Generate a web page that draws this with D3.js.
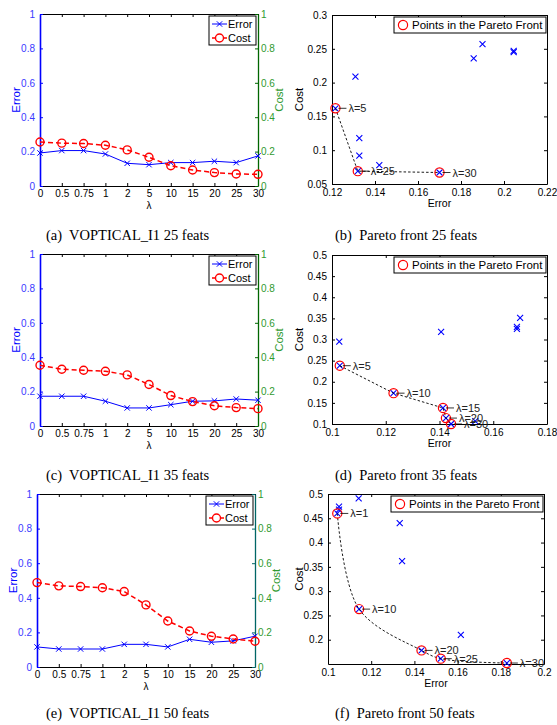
<!DOCTYPE html>
<html>
<head>
<meta charset="utf-8">
<script src="https://cdn.jsdelivr.net/npm/d3@7"></script>
<style>
body { margin: 0; background: #fff; }
svg { display: block; font-family: "Liberation Sans", Arial, sans-serif; }
</style>
</head>
<body>
<div id="chart"></div>
<script>
// lambda values on the x axis of the left panels
const LAMBDAS = ['0', '0.5', '0.75', '1', '2', '5', '10', '15', '20', '25', '30'];
const UNIT_TICKS = [0, 0.2, 0.4, 0.6, 0.8, 1];

// (a) 25 feats
const ERROR_25 = [0.192, 0.206, 0.206, 0.186, 0.132, 0.124, 0.136, 0.136, 0.144, 0.136, 0.175];
const COST_25 = [0.256, 0.249, 0.247, 0.237, 0.210, 0.167, 0.118, 0.093, 0.078, 0.070, 0.068];
// (c) 35 feats
const ERROR_35 = [0.173, 0.173, 0.173, 0.144, 0.105, 0.105, 0.124, 0.144, 0.146, 0.157, 0.150];
const COST_35 = [0.353, 0.330, 0.324, 0.318, 0.297, 0.241, 0.177, 0.142, 0.118, 0.107, 0.101];
// (e) 50 feats
const ERROR_50 = [0.116, 0.104, 0.104, 0.104, 0.131, 0.131, 0.116, 0.160, 0.143, 0.151, 0.178];
const COST_50 = [0.488, 0.469, 0.465, 0.458, 0.436, 0.359, 0.266, 0.208, 0.178, 0.162, 0.149];

// (b) pareto 25 feats
const ALL_ERR_25 = [0.1216, 0.1309, 0.1327, 0.1327, 0.1320, 0.1420, 0.1700, 0.1859, 0.1900, 0.2045, 0.2045];
const ALL_COST_25 = [0.162, 0.209, 0.118, 0.092, 0.069, 0.078, 0.067, 0.236, 0.257, 0.247, 0.245];
const FRONT_ERR_25 = [0.1216, 0.1320, 0.1700];
const FRONT_COST_25 = [0.162, 0.069, 0.067];
const FRONT_LABELS_25 = ['λ=5', 'λ=25', 'λ=30'];
const X_TICKS_25 = [0.12, 0.14, 0.16, 0.18, 0.2, 0.22];
const Y_TICKS_25 = [0.05, 0.1, 0.15, 0.2, 0.25, 0.3];

// (d) pareto 35 feats
const ALL_ERR_35 = [0.1027, 0.1029, 0.1229, 0.1406, 0.1413, 0.1424, 0.1443, 0.1533, 0.1700, 0.1688, 0.1688];
const ALL_COST_35 = [0.295, 0.238, 0.173, 0.318, 0.138, 0.114, 0.100, 0.107, 0.351, 0.330, 0.325];
const FRONT_ERR_35 = [0.1029, 0.1229, 0.1413, 0.1424, 0.1443];
const FRONT_COST_35 = [0.238, 0.173, 0.138, 0.114, 0.100];
const FRONT_LABELS_35 = ['λ=5', 'λ=10', 'λ=15', 'λ=20', 'λ=30'];
const X_TICKS_35 = [0.1, 0.12, 0.14, 0.16, 0.18];
const Y_TICKS_35 = [0.1, 0.15, 0.2, 0.25, 0.3, 0.35, 0.4, 0.45, 0.5];

// (f) pareto 50 feats
const ALL_ERR_50 = [0.1043, 0.1051, 0.1051, 0.1142, 0.1332, 0.1343, 0.1144, 0.1433, 0.1522, 0.1615, 0.1828];
const ALL_COST_50 = [0.460, 0.474, 0.468, 0.491, 0.440, 0.362, 0.263, 0.178, 0.161, 0.210, 0.152];
const FRONT_ERR_50 = [0.1043, 0.1144, 0.1433, 0.1522, 0.1828];
const FRONT_COST_50 = [0.460, 0.263, 0.178, 0.161, 0.152];
const FRONT_LABELS_50 = ['λ=1', 'λ=10', 'λ=20', 'λ=25', 'λ=30'];
const X_TICKS_50 = [0.1, 0.12, 0.14, 0.16, 0.18, 0.2];
const Y_TICKS_50 = [0.2, 0.25, 0.3, 0.35, 0.4, 0.45, 0.5];

const CAPTIONS = [
	'(a)  VOPTICAL_I1 25 feats', '(b)  Pareto front 25 feats',
	'(c)  VOPTICAL_I1 35 feats', '(d)  Pareto front 35 feats',
	'(e)  VOPTICAL_I1 50 feats', '(f)  Pareto front 50 feats'
];

const BLUE = '#0000ff';
const RED = '#ff0000';
const TICK = 3;

const W = 557, H = 725;
const svg = d3.select('#chart').append('svg').attr('width', W).attr('height', H);

function xMarker(g, x, y, s, color, width) {
	g.append('path')
		.attr('d', `M${x - s},${y - s}L${x + s},${y + s}M${x - s},${y + s}L${x + s},${y - s}`)
		.attr('stroke', color).attr('stroke-width', width).attr('fill', 'none');
}

function drawLambda(box, errors, costs) {
	const g = svg.append('g');
	const x = d3.scalePoint().domain(LAMBDAS).range([box.x0, box.x1]);
	const y = d3.scaleLinear().domain([0, 1]).range([box.y1, box.y0]);

	// box: top and bottom in black
	g.append('g').attr('transform', `translate(0,${box.y1})`)
		.call(d3.axisBottom(x).tickSizeInner(-TICK).tickSizeOuter(0).tickPadding(4))
		.call(a => a.select('.domain').attr('stroke', '#000'))
		.call(a => a.selectAll('text').attr('font-size', 10).attr('fill', '#000'));
	g.append('g').attr('transform', `translate(0,${box.y0})`)
		.call(d3.axisTop(x).tickSizeInner(-TICK).tickSizeOuter(0).tickFormat(''));

	// left axis (error, blue) and right axis (cost, green)
	g.append('g').attr('transform', `translate(${box.x0},0)`)
		.call(d3.axisLeft(y).tickValues(UNIT_TICKS).tickFormat(d3.format('~g'))
			.tickSizeInner(-TICK).tickSizeOuter(0).tickPadding(5))
		.call(a => a.select('.domain').attr('stroke', BLUE).attr('stroke-width', 1.6))
		.call(a => a.selectAll('line').attr('stroke', BLUE))
		.call(a => a.selectAll('text').attr('font-size', 10).attr('fill', '#3a3aff'));
	g.append('g').attr('transform', `translate(${box.x1},0)`)
		.call(d3.axisRight(y).tickValues(UNIT_TICKS).tickFormat(d3.format('~g'))
			.tickSizeInner(-TICK).tickSizeOuter(0).tickPadding(3))
		.call(a => a.select('.domain').attr('stroke', box.rightColor).attr('stroke-width', 1.3))
		.call(a => a.selectAll('line').attr('stroke', box.rightColor))
		.call(a => a.selectAll('text').attr('font-size', 10).attr('fill', '#2f9a2f'));

	// axis labels
	const midY = (box.y0 + box.y1) / 2;
	g.append('text').attr('transform', `translate(${box.errLabelX},${midY})rotate(-90)`)
		.attr('text-anchor', 'middle').attr('font-size', 11.5).attr('fill', BLUE).text('Error');
	g.append('text').attr('transform', `translate(${box.costLabelX},${midY})rotate(-90)`)
		.attr('text-anchor', 'middle').attr('font-size', 11.5).attr('fill', '#2f9a2f').text('Cost');
	g.append('text').attr('x', (box.x0 + box.x1) / 2).attr('y', box.y1 + 23)
		.attr('text-anchor', 'middle').attr('font-size', 10).text('λ');

	// error series
	const seriesLine = d3.line().x((d, i) => x(LAMBDAS[i])).y(d => y(d));
	g.append('path').datum(errors).attr('d', seriesLine)
		.attr('fill', 'none').attr('stroke', BLUE).attr('stroke-width', 1);
	errors.forEach((d, i) => xMarker(g, x(LAMBDAS[i]), y(d), 2.7, BLUE, 1));

	// cost series
	g.append('path').datum(costs).attr('d', seriesLine)
		.attr('fill', 'none').attr('stroke', RED).attr('stroke-width', 1.5)
		.attr('stroke-dasharray', '5,3');
	g.selectAll('circle.cost').data(costs).enter().append('circle')
		.attr('class', 'cost')
		.attr('cx', (d, i) => x(LAMBDAS[i])).attr('cy', d => y(d)).attr('r', 4)
		.attr('fill', 'none').attr('stroke', RED).attr('stroke-width', 1.4);

	// legend
	const lg = g.append('g').attr('transform', `translate(${box.x1 - 49},${box.y0 + 2})`);
	lg.append('rect').attr('width', 47).attr('height', 29)
		.attr('fill', '#fff').attr('stroke', '#000').attr('stroke-width', 1);
	lg.append('line').attr('x1', 3).attr('x2', 18).attr('y1', 8).attr('y2', 8)
		.attr('stroke', BLUE).attr('stroke-width', 1);
	xMarker(lg, 10.5, 8, 2.7, BLUE, 1);
	lg.append('text').attr('x', 19).attr('y', 12).attr('font-size', 11).text('Error');
	lg.append('line').attr('x1', 3).attr('x2', 18).attr('y1', 22).attr('y2', 22)
		.attr('stroke', RED).attr('stroke-width', 1.4).attr('stroke-dasharray', '4,2');
	lg.append('circle').attr('cx', 10.5).attr('cy', 22).attr('r', 4)
		.attr('fill', '#fff').attr('stroke', RED).attr('stroke-width', 1.4);
	lg.append('text').attr('x', 19).attr('y', 26).attr('font-size', 11).text('Cost');
}

function drawPareto(box, allErr, allCost, frontErr, frontCost, labels, xTicks, yTicks, curve) {
	const g = svg.append('g');
	const x = d3.scaleLinear().domain(box.xDomain).range([box.x0, box.x1]);
	const y = d3.scaleLinear().domain(box.yDomain).range([box.y1, box.y0]);
	const fmt = d3.format('~g');

	const styleAxis = a => {
		a.select('.domain').attr('stroke', '#000');
		a.selectAll('text').attr('font-size', 10).attr('fill', '#000');
	};
	g.append('g').attr('transform', `translate(0,${box.y1})`)
		.call(d3.axisBottom(x).tickValues(xTicks).tickFormat(fmt).tickSizeInner(-TICK).tickSizeOuter(0).tickPadding(5))
		.call(styleAxis);
	g.append('g').attr('transform', `translate(0,${box.y0})`)
		.call(d3.axisTop(x).tickValues(xTicks).tickFormat('').tickSizeInner(-TICK).tickSizeOuter(0))
		.call(styleAxis);
	g.append('g').attr('transform', `translate(${box.x0},0)`)
		.call(d3.axisLeft(y).tickValues(yTicks).tickFormat(fmt).tickSizeInner(-TICK).tickSizeOuter(0).tickPadding(5))
		.call(styleAxis);
	g.append('g').attr('transform', `translate(${box.x1},0)`)
		.call(d3.axisRight(y).tickValues(yTicks).tickFormat('').tickSizeInner(-TICK).tickSizeOuter(0))
		.call(styleAxis);

	const midY = (box.y0 + box.y1) / 2;
	g.append('text').attr('transform', `translate(${box.costLabelX},${midY})rotate(-90)`)
		.attr('text-anchor', 'middle').attr('font-size', 11.5).text('Cost');
	g.append('text').attr('x', (box.x0 + box.x1) / 2).attr('y', box.y1 + 23)
		.attr('text-anchor', 'middle').attr('font-size', 10.5).text('Error');

	// all solutions
	allErr.forEach((d, i) => xMarker(g, x(d), y(allCost[i]), 3, BLUE, 1.1));

	// pareto front
	const front = frontErr.map((d, i) => [x(d), y(frontCost[i])]);
	g.append('path').datum(front).attr('d', d3.line().curve(curve))
		.attr('fill', 'none').attr('stroke', '#000').attr('stroke-width', 0.9)
		.attr('stroke-dasharray', '2.5,2');
	front.forEach(([px, py], i) => {
		g.append('circle').attr('cx', px).attr('cy', py).attr('r', 4.6)
			.attr('fill', 'none').attr('stroke', RED).attr('stroke-width', 1.2);
		g.append('line').attr('x1', px + 3).attr('x2', px + 11).attr('y1', py).attr('y2', py)
			.attr('stroke', '#000').attr('stroke-width', 0.8);
		g.append('text').attr('x', px + 13).attr('y', py + 4)
			.attr('font-size', 11).attr('fill', '#222').text(labels[i]);
	});

	// legend
	const lg = g.append('g').attr('transform', `translate(${box.x1 - 153},${box.y0 + 2})`);
	lg.append('rect').attr('width', 152).attr('height', 16)
		.attr('fill', '#fff').attr('stroke', '#000').attr('stroke-width', 1);
	lg.append('circle').attr('cx', 9).attr('cy', 8).attr('r', 4.6)
		.attr('fill', 'none').attr('stroke', RED).attr('stroke-width', 1.2);
	lg.append('text').attr('x', 18).attr('y', 12).attr('font-size', 11.5).text('Points in the Pareto Front');
}

drawLambda({x0: 40, x1: 258, y0: 14, y1: 186, rightColor: '#006600', errLabelX: 20, costLabelX: 283}, ERROR_25, COST_25);
drawLambda({x0: 40, x1: 258, y0: 254, y1: 426, rightColor: '#006600', errLabelX: 20, costLabelX: 283}, ERROR_35, COST_35);
drawLambda({x0: 37, x1: 255, y0: 494, y1: 667, rightColor: '#006666', errLabelX: 17, costLabelX: 280}, ERROR_50, COST_50);

drawPareto({x0: 332, x1: 547, y0: 15, y1: 184, xDomain: [0.12, 0.22], yDomain: [0.05, 0.3], costLabelX: 303},
	ALL_ERR_25, ALL_COST_25, FRONT_ERR_25, FRONT_COST_25, FRONT_LABELS_25, X_TICKS_25, Y_TICKS_25, d3.curveLinear);
drawPareto({x0: 332, x1: 547, y0: 255, y1: 424, xDomain: [0.1, 0.18], yDomain: [0.1, 0.5], costLabelX: 303},
	ALL_ERR_35, ALL_COST_35, FRONT_ERR_35, FRONT_COST_35, FRONT_LABELS_35, X_TICKS_35, Y_TICKS_35, d3.curveLinear);
drawPareto({x0: 328, x1: 544, y0: 494, y1: 664, xDomain: [0.1, 0.2], yDomain: [0.15, 0.5], costLabelX: 303},
	ALL_ERR_50, ALL_COST_50, FRONT_ERR_50, FRONT_COST_50, FRONT_LABELS_50, X_TICKS_50, Y_TICKS_50, d3.curveCatmullRom);

// sub-figure captions
const capRows = [240, 480, 718];
CAPTIONS.forEach((c, i) => {
	svg.append('text')
		.attr('x', i % 2 === 0 ? 46 : 335)
		.attr('y', capRows[Math.floor(i / 2)])
		.attr('font-family', '"Liberation Serif", "Times New Roman", serif')
		.attr('font-size', 14.5).style('white-space', 'pre')
		.text(c);
});
</script>
</body>
</html>
